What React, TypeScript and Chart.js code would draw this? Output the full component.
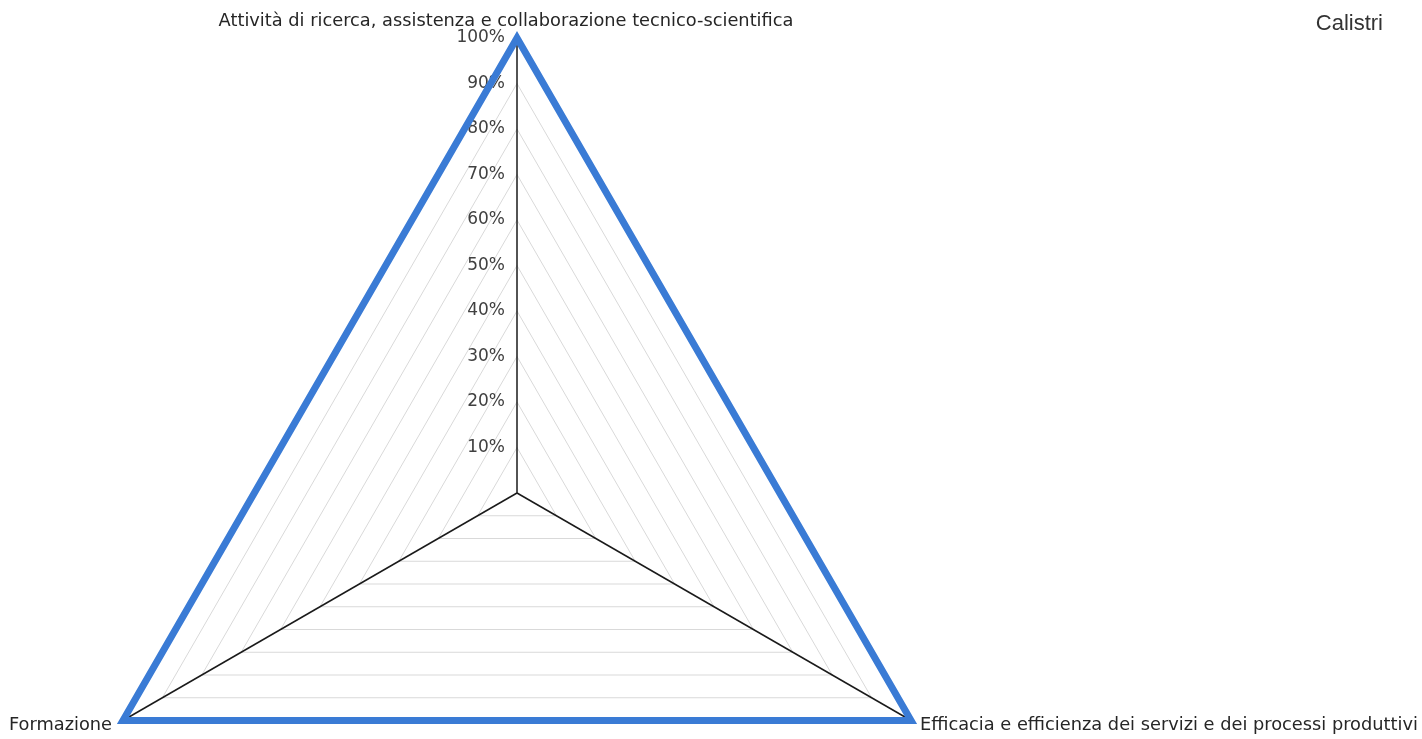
import React, { useEffect, useRef } from "react";
import { Chart, registerables } from "chart.js";

Chart.register(...registerables);

// ---- data ----
const categories = [
  "Attività di ricerca, assistenza e collaborazione tecnico-scientifica",
  "Efficacia e efficienza dei servizi e dei processi produttivi",
  "Formazione",
];
const seriesName = "Calistri";
const calistriValues = [100, 100, 100];
const scaleMin = 0;
const scaleMax = 100;
const scaleStep = 10;
const tickSuffix = "%";

const axisTextPlugin = {
  id: "axisText",
  beforeDatasetsDraw(chart: any) {
    const scale = chart.scales.r;
    const ctx = chart.ctx;
    ctx.save();
    // tick labels, right-aligned left of the vertical axis
    ctx.font = "17px 'DejaVu Sans'";
    ctx.fillStyle = "#404040";
    ctx.textAlign = "right";
    ctx.textBaseline = "middle";
    scale.ticks.forEach((t: any) => {
      if (t.value === scaleMin) return;
      const d = scale.getDistanceFromCenterForValue(t.value);
      ctx.fillText(String(t.value) + tickSuffix, scale.xCenter - 12, scale.yCenter - d);
    });
    // point labels
    ctx.font = "17.8px 'DejaVu Sans'";
    ctx.fillStyle = "#262626";
    (chart.data.labels as string[]).forEach((label, i) => {
      const p = scale.getPointPosition(i, scale.drawingArea + 8);
      const a = scale.getIndexAngle(i);
      const sx = Math.sin(a);
      const cy = Math.cos(a);
      ctx.textAlign = sx > 0.1 ? "left" : sx < -0.1 ? "right" : "center";
      if (cy > 0.1) {
        ctx.textBaseline = "alphabetic";
        ctx.fillText(label, p.x - 11, p.y - 4);
      } else {
        ctx.textBaseline = "middle";
        ctx.fillText(label, p.x + (sx > 0 ? 2 : -4), p.y + 1);
      }
    });
    ctx.restore();
  },
};

export default function App() {
  const ref = useRef<HTMLCanvasElement | null>(null);
  useEffect(() => {
    if (!ref.current) return;
    const chart = new Chart(ref.current, {
      type: "radar",
      data: {
        labels: categories,
        datasets: [
          {
            label: seriesName,
            data: calistriValues,
            borderColor: "#3A7BD5",
            backgroundColor: "rgba(0,0,0,0)",
            borderWidth: 7,
            pointRadius: 0,
            pointHoverRadius: 0,
            fill: false,
            tension: 0,
            clip: false,
            borderJoinStyle: "miter",
          } as any,
        ],
      },
      options: {
        animation: false,
        responsive: true,
        maintainAspectRatio: false,
        layout: { padding: { top: 10.5, left: 0, right: 39, bottom: 0 } },
        plugins: {
          legend: { display: false },
          tooltip: { enabled: false },
          title: {
            display: true,
            text: seriesName,
            align: "end",
            color: "#333333",
            font: { family: "'Liberation Sans', Arial, sans-serif", size: 22, weight: "normal", lineHeight: 1.2 },
            padding: { top: 0, bottom: 1.1 },
          },
        },
        scales: {
          r: {
            min: scaleMin,
            max: scaleMax,
            ticks: { stepSize: scaleStep, display: false },
            pointLabels: { display: false },
            grid: { color: "#d9d9d9", lineWidth: 1 },
            angleLines: { color: "#1a1a1a", lineWidth: 1.5 },
          },
        },
      },
      plugins: [axisTextPlugin],
    });
    return () => chart.destroy();
  }, []);
  return (
    <div style={{ position: "fixed", left: 0, top: 0, width: 1422, height: 739, overflow: "hidden", background: "#fff" }}>
      <div style={{ position: "absolute", left: -349, top: 0, width: 1771, height: 948 }}>
        <canvas ref={ref} />
      </div>
    </div>
  );
}
